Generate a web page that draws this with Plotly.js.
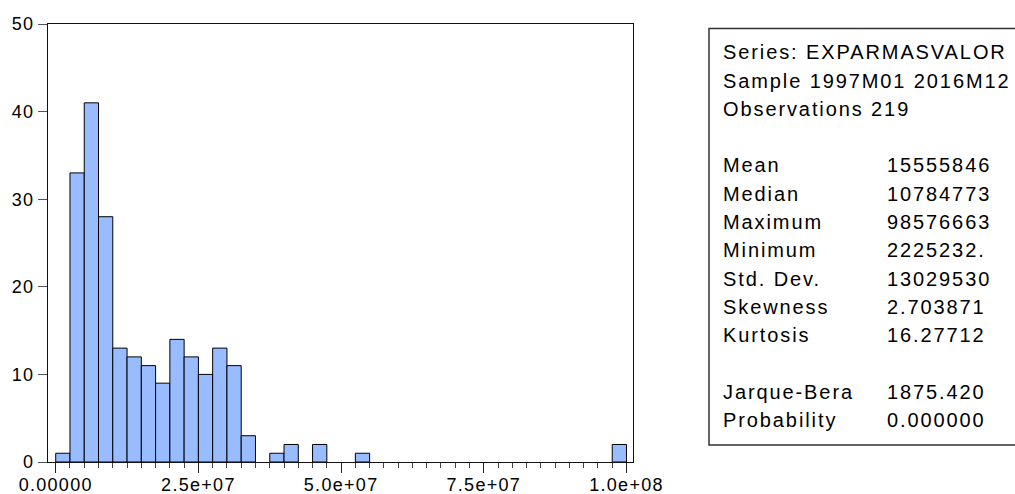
<!DOCTYPE html>
<html><head><meta charset="utf-8">
<script src="https://cdn.plot.ly/plotly-3.0.1.min.js"></script>
<style>
html,body{margin:0;padding:0;background:#fff;}
#chart{width:1015px;height:494px;}
#chart .xtick text, #chart .ytick text{letter-spacing:1.3px;}
#chart .annotation-text{letter-spacing:1.9px;}
</style></head><body><div id="chart"></div>
<script>
// Histogram bins (lower edge of each non-empty bin) and counts
const binLower = [0, 2.5e6, 5e6, 7.5e6, 1e7, 1.25e7, 1.5e7, 1.75e7, 2e7, 2.25e7, 2.5e7, 2.75e7, 3e7, 3.25e7, 3.75e7, 4e7, 4.5e7, 5.25e7, 9.75e7];
const binCounts = [1, 33, 41, 28, 13, 12, 11, 9, 14, 12, 10, 13, 11, 3, 1, 2, 2, 1, 2];
const binWidth = 2.5e6;
const xTickVals = [0, 2.5e7, 5e7, 7.5e7, 1e8];
const xTickText = ["0.00000", "2.5e+07", "5.0e+07", "7.5e+07", "1.0e+08"];
const yTickVals = [0, 10, 20, 30, 40, 50];
const headerLines = ["Series: EXPARMASVALOR", "Sample 1997M01 2016M12", "Observations 219"];
const statLabels = ["Mean", "Median", "Maximum", "Minimum", "Std. Dev.", "Skewness", "Kurtosis"];
const statValues = ["15555846", "10784773", "98576663", "2225232.", "13029530", "2.703871", "16.27712"];
const testLabels = ["Jarque-Bera", "Probability"];
const testValues = ["1875.420", "0.000000"];

const FONT = "Liberation Sans, Arial, sans-serif";
const L = 48, R = 633, T = 24, B = 462;
const px = x => (x - L) / (R - L);
const py = y => (B - y) / (B - T);
const rowY = k => py(52.2 + 28.3 * k);

const annotations = [];
function addText(text, xPix, k) {
  annotations.push({
    text: text, xref: "paper", yref: "paper", x: px(xPix), y: rowY(k),
    xanchor: "left", yanchor: "middle", align: "left", showarrow: false,
    borderpad: 0,
    font: {family: FONT, size: 20, color: "#000"}
  });
}
headerLines.forEach((t, i) => addText(t, 722, i));
statLabels.forEach((t, i) => { addText(t, 722, 4 + i); addText(statValues[i], 886, 4 + i); });
testLabels.forEach((t, i) => { addText(t, 722, 12 + i); addText(testValues[i], 886, 12 + i); });

const trace = {
  type: "bar",
  x: binLower,
  y: binCounts,
  width: binLower.map(() => binWidth),
  offset: 0,
  marker: {color: "#99BBFF", line: {color: "#000", width: 1}},
  hoverinfo: "none"
};

const layout = {
  width: 1015, height: 494,
  margin: {l: L, r: 1015 - R, t: T, b: 494 - B, pad: 0},
  paper_bgcolor: "#fff", plot_bgcolor: "#fff",
  showlegend: false,
  bargap: 0,
  font: {family: FONT, size: 18, color: "#000"},
  xaxis: {
    range: [-1.35e6, 1.0114e8],
    tickmode: "array", tickvals: xTickVals, ticktext: xTickText,
    ticks: "outside", ticklen: 10, tickwidth: 1, tickcolor: "#222",
    ticklabelstandoff: -4,
    minor: {dtick: 2.5e6, tick0: 0, ticks: "outside", ticklen: 5, tickwidth: 1, tickcolor: "#444", showgrid: false},
    showgrid: false, zeroline: false,
    showline: true, linecolor: "#111", linewidth: 1, mirror: true,
    tickfont: {family: FONT, size: 18, color: "#000"}
  },
  yaxis: {
    range: [0, 50],
    tickmode: "array", tickvals: yTickVals,
    ticks: "outside", ticklen: 9, tickwidth: 1, tickcolor: "#555",
    showgrid: false, zeroline: false,
    showline: true, linecolor: "#111", linewidth: 1, mirror: true,
    tickfont: {family: FONT, size: 18, color: "#000"}
  },
  shapes: [{
    type: "rect", xref: "paper", yref: "paper",
    x0: px(709), x1: px(1030), y0: py(445), y1: py(28.5),
    line: {color: "#333", width: 1.5}, fillcolor: "rgba(0,0,0,0)"
  }],
  annotations: annotations
};

Plotly.newPlot("chart", [trace], layout, {staticPlot: true, displayModeBar: false});
</script></body></html>
